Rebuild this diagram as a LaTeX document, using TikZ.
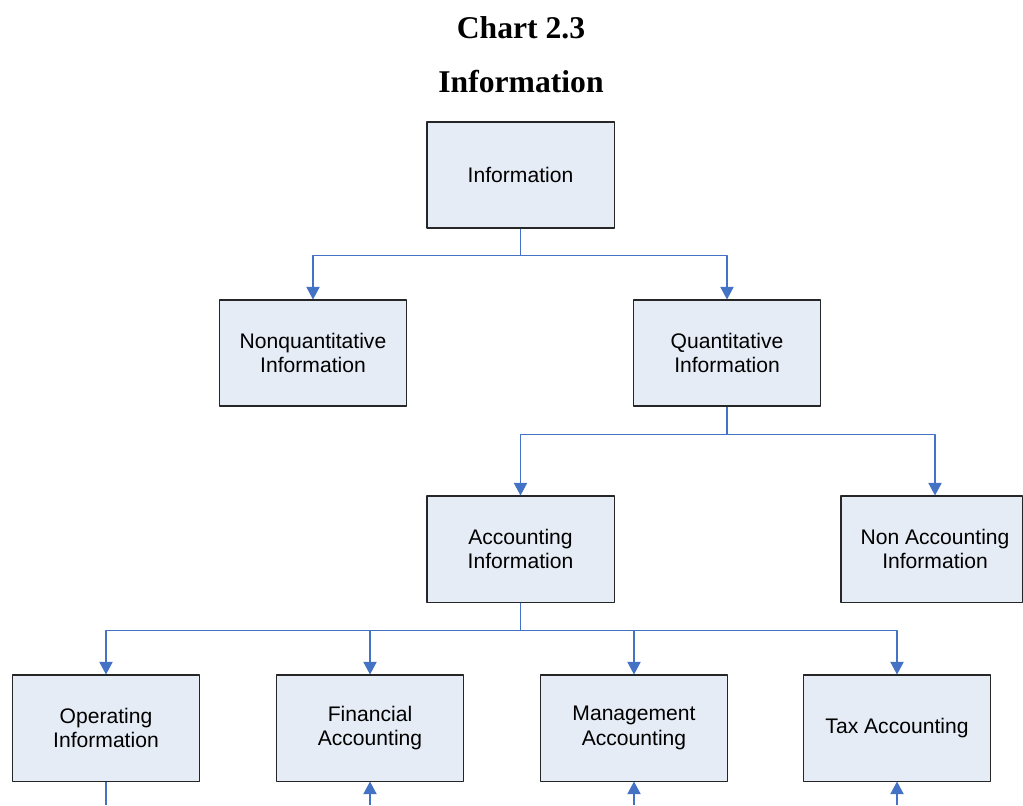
\documentclass[tikz,border=0pt]{standalone}
\usepackage{fontspec}
\setmainfont{Liberation Serif}
\setsansfont{Liberation Sans}
\usetikzlibrary{arrows.meta}
\definecolor{boxfill}{RGB}{230,236,245}
\definecolor{linkblue}{RGB}{68,114,196}
\tikzset{
  infobox/.style={draw=black!85, fill=boxfill, line width=0.75pt, minimum width=4.675cm,
    minimum height=2.65cm, align=center, font=\sffamily\fontsize{15}{17.5}\selectfont},
  link/.style={draw=linkblue, line width=0.75pt},
  titletext/.style={font=\rmfamily\bfseries\fontsize{22.5}{26}\selectfont}
}
\begin{document}
\begin{tikzpicture}[x=0.025cm,y=-0.025cm,>={Triangle[width=9.5pt,length=9pt]},line join=round]
			\useasboundingbox (0,0) rectangle (1023,805);
			% titles
			\node[titletext] (chartno) at (521,28) {Chart 2.3};
			\node[titletext] (charttitle) at (521,82) {Information};
			% boxes
			\node[infobox] (info) at (520.5,175) {Information};
			\node[infobox] (nonq) at (313,353) {Nonquantitative\\Information};
			\node[infobox] (quant) at (727,353) {Quantitative\\Information};
			\node[infobox] (acct) at (520.5,549) {Accounting\\Information};
			\node[infobox, minimum width=4.525cm] (nonacct) at (931.5,549)
				{\hspace*{0.175cm}Non Accounting\\\hspace*{0.175cm}Information};
			\node[infobox] (oper) at (106,728) {Operating\\Information};
			\node[infobox] (fin) at (370,728) {Financial\\Accounting};
			\node[infobox] (mgmt) at (634,728) {Management\\Accounting};
			\node[infobox] (tax) at (897,728) {Tax Accounting};
			% connectors
			\draw[link,->] (info.south) -- ++(0,27) -| (nonq.north);
			\draw[link,->] (info.south) -- ++(0,27) -| (quant.north);
			\draw[link,->] (quant.south) -- ++(0,28) -| (acct.north);
			\draw[link,->] (quant.south) -- ++(0,28) -| ([xshift=3.5*0.025cm]nonacct.north);
			\foreach \n in {oper,fin,mgmt,tax}
				\draw[link,->] (acct.south) -- ++(0,28) -| (\n.north);
			% ends cut by the page edge
			\coordinate (operend) at (106,805);
			\coordinate (finend) at (370,805);
			\coordinate (mgmtend) at (634,805);
			\coordinate (taxend) at (897,805);
			\draw[link] (oper.south) -- (operend);
			\draw[link,->] (finend) -- (fin.south);
			\draw[link,->] (mgmtend) -- (mgmt.south);
			\draw[link,->] (taxend) -- (tax.south);
		\end{tikzpicture}
\end{document}
